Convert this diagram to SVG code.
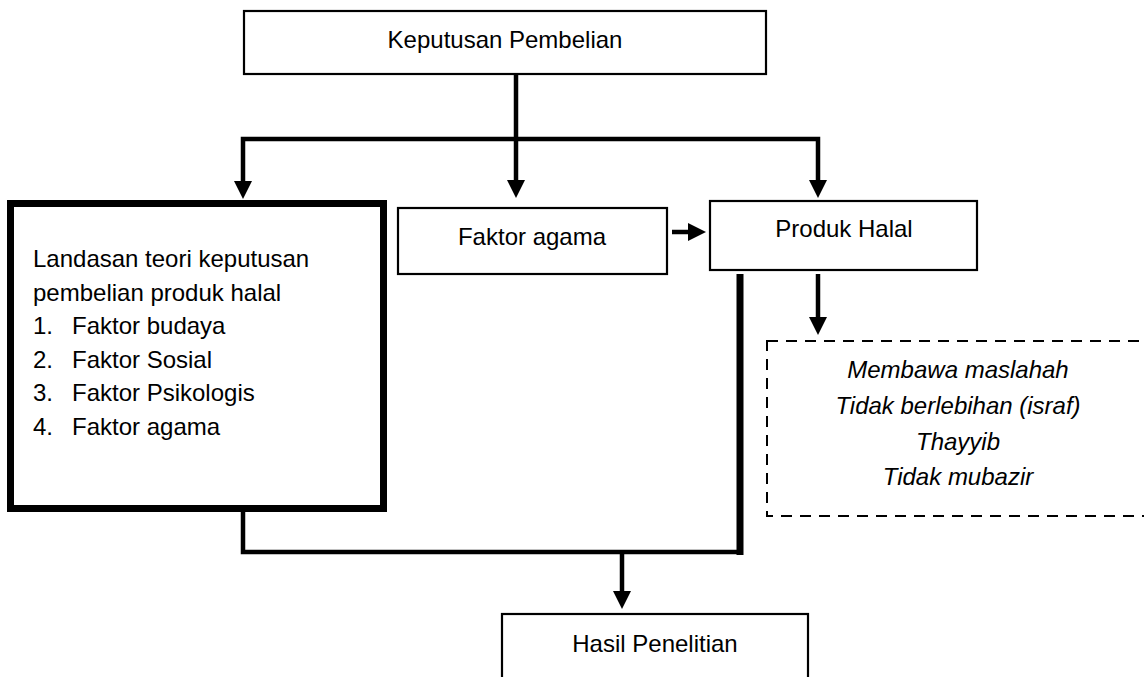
<svg xmlns="http://www.w3.org/2000/svg" width="1144" height="677" viewBox="0 0 1144 677">
<style>
.box{fill:#fff;stroke:#000;stroke-width:2.2}
.thick{fill:#fff;stroke:#000;stroke-width:7}
.dash{fill:none;stroke:#000;stroke-width:2;stroke-dasharray:11 8}
.t{font-family:"Liberation Sans",Arial,sans-serif;font-size:24px;fill:#000}
.c{text-anchor:middle}
.i{font-style:italic}
.ln{fill:none;stroke:#000;stroke-width:4.5}
.head{fill:#000}
</style>
<rect width="1144" height="677" fill="#fff"/>
<g id="connectors">
<path class="ln" d="M516 74 V184"/>
<path class="ln" d="M243 183 V139 H818 V183"/>
<path class="ln" d="M672 232 H691"/>
<path class="ln" d="M818 274 V320"/>
<path class="ln" d="M243 512 V552 H740"/>
<path d="M740 274 V555" fill="none" stroke="#000" stroke-width="7"/>
<path class="ln" d="M622 552 V594"/>
<polygon class="head" points="234,181 252,181 243,199"/>
<polygon class="head" points="507,180 525,180 516,198"/>
<polygon class="head" points="809,180 827,180 818,198"/>
<polygon class="head" points="688,223 688,241 706,232"/>
<polygon class="head" points="809,317 827,317 818,335"/>
<polygon class="head" points="613,591 631,591 622,609"/>
</g>
<g id="keputusan">
<rect class="box" x="244" y="11" width="522" height="63"/>
<text class="t c" x="505" y="48">Keputusan Pembelian</text>
</g>
<g id="landasan">
<rect class="thick" x="10.5" y="203.5" width="373" height="305"/>
<text class="t" x="33" y="267">Landasan teori keputusan</text>
<text class="t" x="33" y="300.5">pembelian produk halal</text>
<text class="t" x="33" y="334">1.</text><text class="t" x="72" y="334">Faktor budaya</text>
<text class="t" x="33" y="367.5">2.</text><text class="t" x="72" y="367.5">Faktor Sosial</text>
<text class="t" x="33" y="401">3.</text><text class="t" x="72" y="401">Faktor Psikologis</text>
<text class="t" x="33" y="435">4.</text><text class="t" x="72" y="435">Faktor agama</text>
</g>
<g id="faktor-agama">
<rect class="box" x="398" y="208" width="269" height="66"/>
<text class="t c" x="532" y="245">Faktor agama</text>
</g>
<g id="produk-halal">
<rect class="box" x="710" y="201" width="267" height="69"/>
<text class="t c" x="844" y="237">Produk Halal</text>
</g>
<g id="kriteria">
<rect class="dash" x="767" y="341" width="400" height="175"/>
<text class="t c i" x="958" y="378">Membawa maslahah</text>
<text class="t c i" x="958" y="414">Tidak berlebihan (israf)</text>
<text class="t c i" x="958" y="450">Thayyib</text>
<text class="t c i" x="958" y="485">Tidak mubazir</text>
</g>
<g id="hasil">
<rect class="box" x="502" y="614" width="306" height="90"/>
<text class="t c" x="655" y="652">Hasil Penelitian</text>
</g>
</svg>
